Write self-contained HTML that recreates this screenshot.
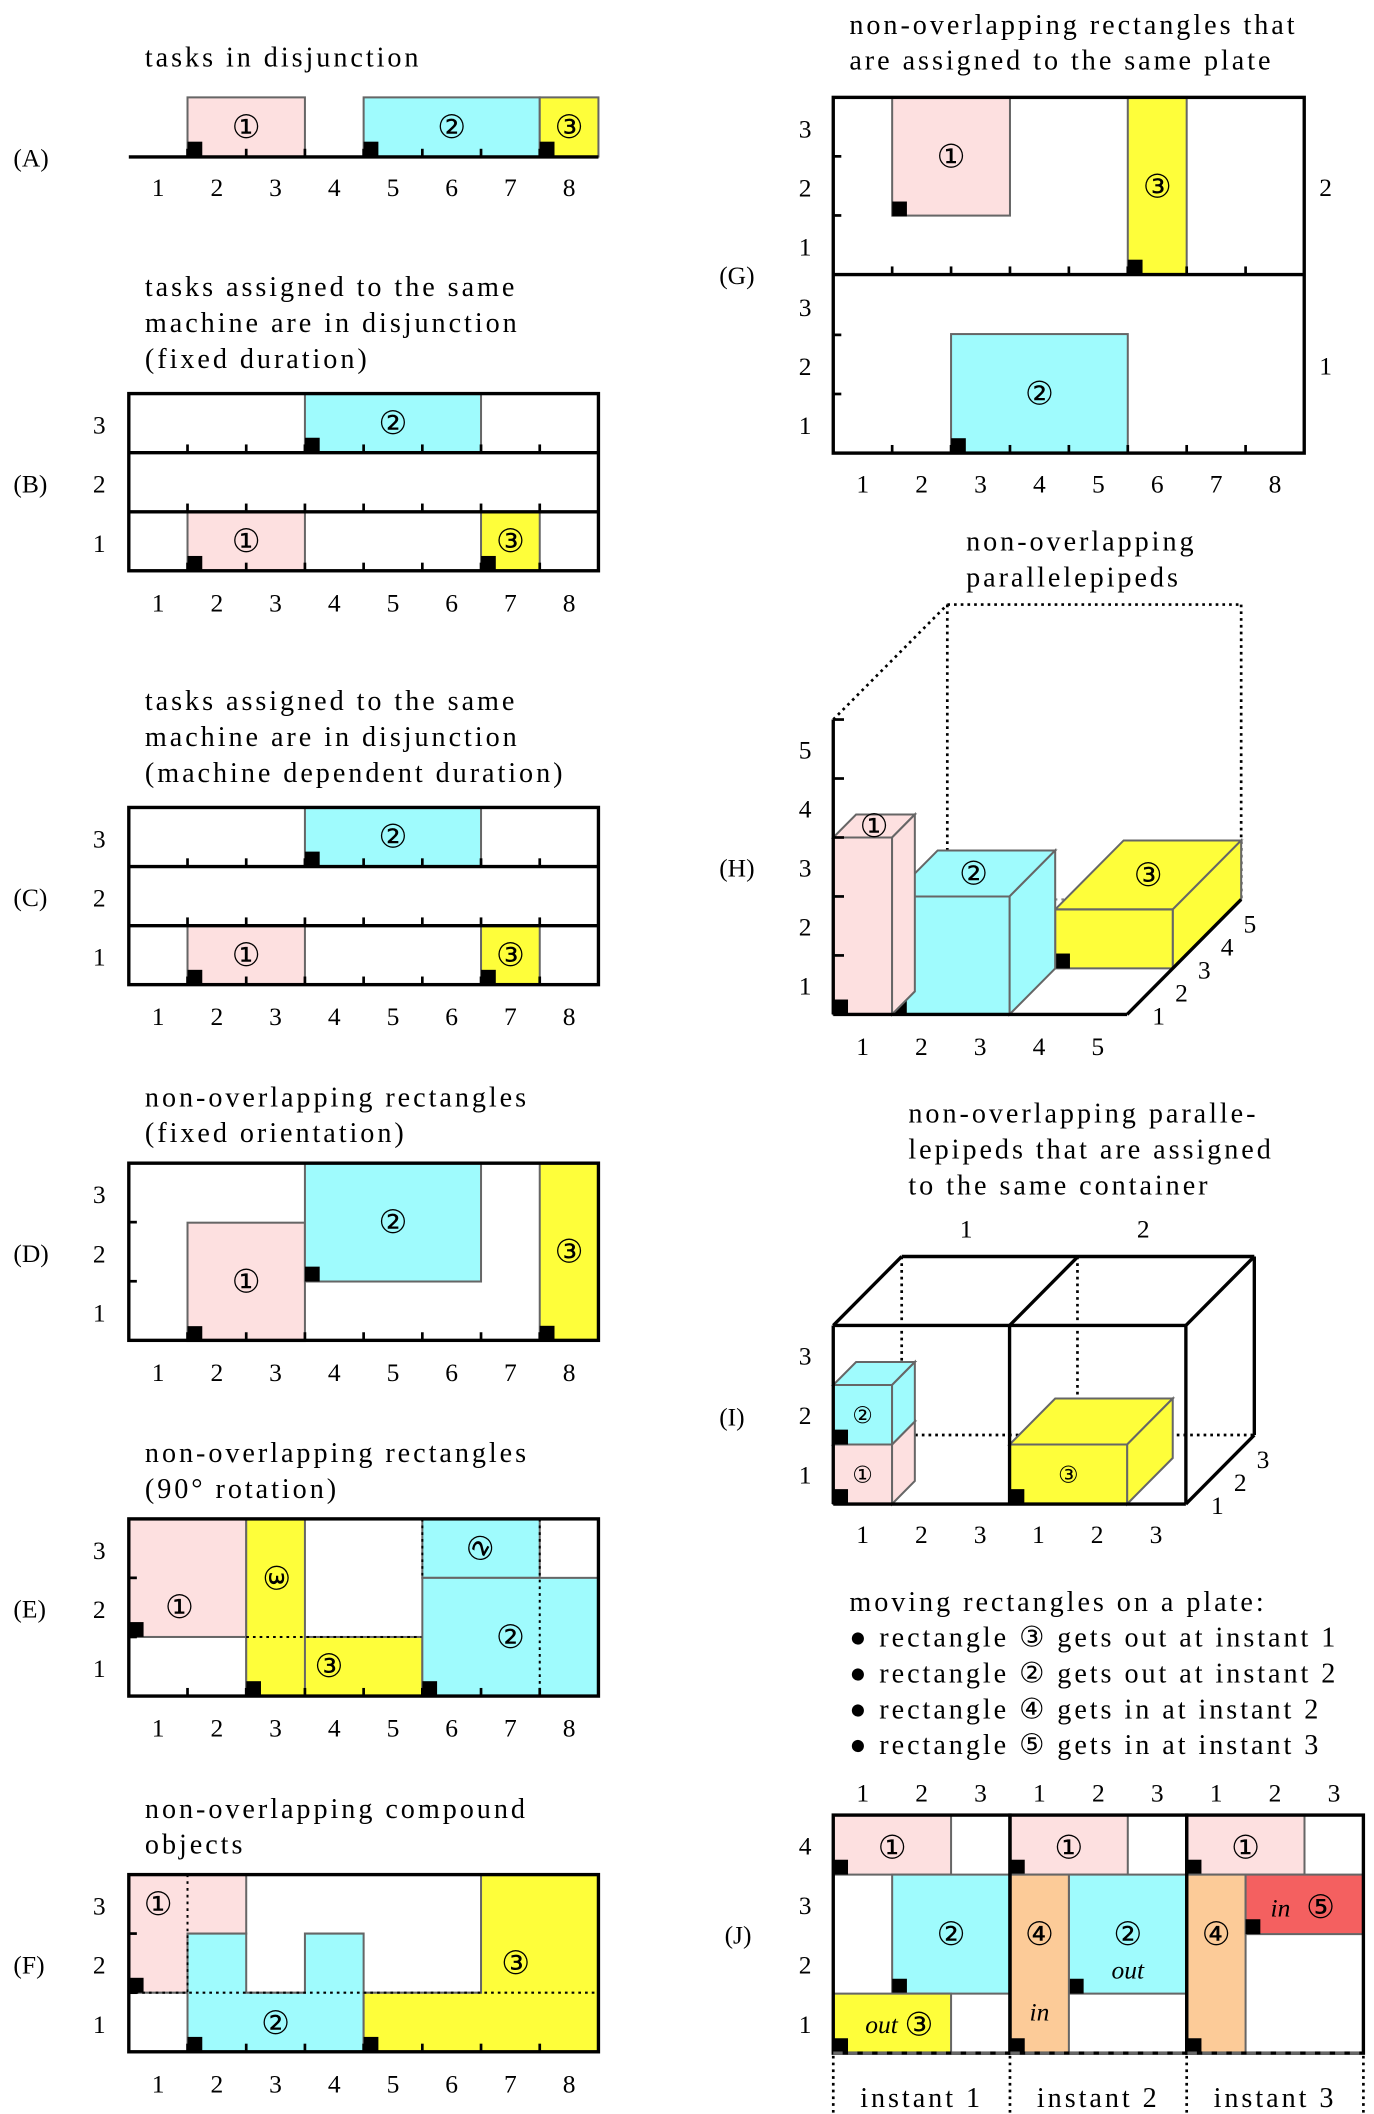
<!DOCTYPE html>
<html><head><meta charset="utf-8"><style>
html,body{margin:0;padding:0;background:#fff}
svg{display:block}
text{font-family:"Liberation Serif","DejaVu Serif",serif;font-size:19px;fill:#000}
.c{font-family:"DejaVu Sans","Liberation Sans",sans-serif;font-size:24px}
.t{font-size:21px;letter-spacing:2.2px}
</style></head><body>
<svg id="s" width="1374" height="2114" viewBox="0 0 1024 1563" preserveAspectRatio="none" xmlns="http://www.w3.org/2000/svg"></svg>
<script>
const PINK='#fde0e0',CYAN='#9ffbfd',YEL='#fefe3a',ORG='#fccb98',RED='#f46060',EDGE='#666';
const cellLabels=['1','2','3','4','5','6','7','8'];
// rect data: [col start, cols, row start(0-based from bottom), rows, color, label]
const panelA=[[2,2,0,1,PINK,'①'],[5,3,0,1,CYAN,'②'],[8,1,0,1,YEL,'③']];
const panelB=[[2,2,0,1,PINK,'①'],[4,3,2,1,CYAN,'②'],[7,1,0,1,YEL,'③']];
const panelD=[[2,2,0,2,PINK,'①'],[4,3,1,2,CYAN,'②'],[8,1,0,3,YEL,'③']];
const S=document.getElementById('s');
function el(tag,attrs,name,parent){const e=document.createElementNS('http://www.w3.org/2000/svg',tag);for(const k in attrs)e.setAttribute(k,attrs[k]);


(parent||S).appendChild(e);return e;}
function txt(x,y,s,name,cls,anchor){const t=el('text',{x:x,y:y,'text-anchor':anchor||'start'},name);if(cls)t.setAttribute('class',cls);t.textContent=s;return t;}
function line(x1,y1,x2,y2,w,dash,col){return el('line',{x1:x1,y1:y1,x2:x2,y2:y2,stroke:col||'#000','stroke-width':w||2,'stroke-dasharray':dash||'none'},'line');}
function box(x,y,w,h,fill,name){return el('rect',{x:x,y:y,width:w,height:h,fill:fill,stroke:EDGE,'stroke-width':1.5},name);}
function sq(x,y){el('rect',{x:x,y:y-11,width:11,height:11,fill:'#000'},'origin-marker');}
function poly(pts,fill,name){return el('polygon',{points:pts.map(p=>p.join(',')).join(' '),fill:fill,stroke:EDGE,'stroke-width':1.5},name);}
const U=43.75;
const X=c=>96+(c-1)*U;
function titles(x,y,lines,name){lines.forEach((l,i)=>txt(x,y+i*26.5,l,name,'t'));}
function xLabels(y,x0,u){cellLabels.forEach((l,i)=>txt(x0+(i+0.5)*u,y,l,'x-tick-label','','middle'));}
function drawRects(list,Y){list.forEach(r=>{const x=X(r[0]),w=r[1]*U,y=Y(r[2]+r[3]),h=r[3]*U;box(x,y,w,h,r[4],'task-rect');sq(x,y+h);txt(x+w/2,y+h/2+8,r[5],'task-label','c','middle');});}

// Panel A
titles(108,49,['tasks in disjunction'],'title-a');txt(10,123,'(A)','panel-a-label');
drawRects(panelA,r=>116-r*44);
line(96,116,446,116,2.5);for(let i=2;i<=8;i++)line(X(i),116,X(i),110,2);
xLabels(145,96,U);

// Panels B & C
function machinePanel(top,label,ttl){
  titles(108,top-72,ttl,'title');txt(10,top+73,label,'panel-label');
  const Y=r=>top+131-r*43.7;
  drawRects(panelB,Y);
  el('rect',{x:96,y:top,width:350,height:131,fill:'none',stroke:'#000','stroke-width':2.5},'frame');
  line(96,top+43.7,446,top+43.7,2.5);line(96,top+87.4,446,top+87.4,2.5);
  for(let r=0;r<3;r++){const yb=Y(r);for(let i=2;i<=8;i++)line(X(i),yb,X(i),yb-6,2);txt(74,yb-14,String(r+1),'y-tick-label','','middle');}
  xLabels(top+161,96,U);
}
machinePanel(291,'(B)',['tasks assigned to the same','machine are in disjunction','(fixed duration)']);
machinePanel(597,'(C)',['tasks assigned to the same','machine are in disjunction','(machine dependent duration)']);

function gridFrame(top,label){
  el('rect',{x:96,y:top,width:350,height:131,fill:'none',stroke:'#000','stroke-width':2.5},'frame');
  for(let i=2;i<=8;i++)line(X(i),top+131,X(i),top+125,2);
  for(let r=1;r<3;r++)line(96,top+131-r*43.7,102,top+131-r*43.7,2);
  for(let r=0;r<3;r++)txt(74,top+131-r*43.7-14,String(r+1),'y-tick-label','','middle');
  xLabels(top+161,96,U);txt(10,top+73,label,'panel-label');
}
// Panel D
titles(108,818,['non-overlapping rectangles','(fixed orientation)'],'title-d');
drawRects(panelD,r=>992-r*44);gridFrame(860,'(D)');

// Panel E
titles(108,1081,['non-overlapping rectangles','(90° rotation)'],'title-e');
{const T=1123,h=43.7,Y=r=>T+131-r*h;
box(X(1),Y(3),2*U,2*h,PINK,'rect-1');sq(X(1),Y(1));txt(X(2)-6,Y(2)+h/2+8,'①','label','c','middle');
box(X(3),Y(1),3*U,h,YEL,'rect-3-horizontal');box(X(3),Y(3),U,3*h,YEL,'rect-3-vertical');sq(X(3),Y(0));
el('text',{x:X(3)+U/2,y:Y(2)+8,'text-anchor':'middle','class':'c',transform:`rotate(90 ${X(3)+U/2} ${Y(2)})`},'rotated-label').textContent='③';
txt(X(4)+U/2-4,Y(0)-14,'③','label','c','middle');
line(X(3),Y(1),X(6),Y(1),1.5,'2,3');
box(X(6),Y(3),2*U,h,CYAN,'rect-2-rotated');box(X(6),Y(2),3*U,2*h,CYAN,'rect-2');sq(X(6),Y(0));
el('text',{x:X(7),y:Y(3)+h/2+8,'text-anchor':'middle','class':'c',transform:`rotate(-60 ${X(7)} ${Y(3)+h/2})`},'rotated-label').textContent='②';
txt(X(7)+U/2,Y(1)+8,'②','label','c','middle');
line(X(8),Y(3),X(8),Y(0),1.5,'2,3');line(X(6),Y(3),X(6),Y(2),1.5,'2,3');
gridFrame(T,'(E)');}

// Panel F
titles(108,1344,['non-overlapping compound','objects'],'title-f');
{const T=1386,h=43.7,Y=r=>T+131-r*h;
poly([[X(1),Y(3)],[X(3),Y(3)],[X(3),Y(2)],[X(2),Y(2)],[X(2),Y(1)],[X(1),Y(1)]],PINK,'compound-1');sq(X(1),Y(1));txt(X(1)+U/2,Y(3)+h/2+8,'①','label','c','middle');
poly([[X(2),Y(0)],[X(5),Y(0)],[X(5),Y(2)],[X(4),Y(2)],[X(4),Y(1)],[X(3),Y(1)],[X(3),Y(2)],[X(2),Y(2)]],CYAN,'compound-2');sq(X(2),Y(0));txt(X(3)+U/2,Y(0)-13,'②','label','c','middle');
poly([[X(5),Y(0)],[X(9),Y(0)],[X(9),Y(3)],[X(7),Y(3)],[X(7),Y(1)],[X(5),Y(1)]],YEL,'compound-3');sq(X(5),Y(0));txt(X(8)-U/2+4,Y(2)+h/2+8,'③','label','c','middle');
line(X(2),Y(3),X(2),Y(1),1.5,'2,3');line(X(1),Y(1),X(9),Y(1),1.5,'2,3');
gridFrame(T,'(F)');}

// Panel G
titles(633,25,['non-overlapping rectangles that','are assigned to the same plate'],'title-g');txt(536,210,'(G)','panel-g-label');
{const G=c=>621+(c-1)*43.9,h=43.7;
const plates=[[203,2],[335,1]];
box(G(2),72,2*43.9,2*h,PINK,'rect-1');sq(G(2),160);txt(G(3),124,'①','label','c','middle');
box(G(6),72,43.9,131,YEL,'rect-3');sq(G(6),203);txt(G(6)+22,146,'③','label','c','middle');
box(G(3),247,3*43.9,88,CYAN,'rect-2');sq(G(3),335);txt(G(4)+22,299,'②','label','c','middle');
el('rect',{x:621,y:72,width:351,height:263,fill:'none',stroke:'#000','stroke-width':2.5},'frame');line(621,203,972,203,2.5);
plates.forEach(p=>{for(let i=2;i<=8;i++)line(G(i),p[0],G(i),p[0]-6,2);for(let r=1;r<3;r++)line(621,p[0]-r*h,627,p[0]-r*h,2);
for(let r=0;r<3;r++)txt(600,p[0]-r*h-14,String(r+1),'y-tick-label','','middle');txt(988,p[0]-58,String(p[1]),'plate-label','','middle');});
xLabels(364,621,43.9);}

// Panel H
titles(720,407,['non-overlapping','parallelepipeds'],'title-h');txt(536,648,'(H)','panel-h-label');
{const P=(x,y,d)=>[621+x*43.8+d*17,750-y*43.6-d*17];
line(621,532,706,447,2,'2,3');line(706,447,925,447,2,'2,3');line(925,447,925,665,2,'2,3');line(706,447,706,665,2,'2,3');
line(621,750,706,665,1.5,'2,3','#888');line(706,665,925,665,1.5,'2,3','#888');
function cuboid(x0,x1,y0,y1,d0,d1,fill,lab,name){
 poly([P(x0,y1,d0),P(x1,y1,d0),P(x1,y1,d1),P(x0,y1,d1)],fill,name+'-top');
 poly([P(x1,y0,d0),P(x1,y0,d1),P(x1,y1,d1),P(x1,y1,d0)],fill,name+'-side');
 poly([P(x0,y0,d0),P(x1,y0,d0),P(x1,y1,d0),P(x0,y1,d0)],fill,name+'-front');
 const o=P(x0,y0,d0);sq(o[0],o[1]);const c=P((x0+x1)/2,y1,(d0+d1)/2);txt(c[0],c[1]+8,lab,'label','c','middle');}
cuboid(3,5,0,1,2,5,YEL,'③','box-3');cuboid(1,3,0,2,0,2,CYAN,'②','box-2');cuboid(0,1,0,3,0,1,PINK,'①','box-1');
line(621,532,621,750,2.5);line(621,750,840,750,2.5);line(840,750,925,665,2.5);
for(let i=1;i<=5;i++){line(621,750-i*43.6,629,750-i*43.6,2);txt(600,750-(i-0.5)*43.6+7,String(i),'y-tick-label','','middle');txt(621+(i-0.5)*43.8,780,String(i),'x-tick-label','','middle');
 const q=P(5,0,i-0.5);txt(q[0]+15,q[1]+16,String(i),'z-tick-label','','middle');}}

// Panel I
titles(677,830,['non-overlapping paralle-','lepipeds that are assigned','to the same container'],'title-i');txt(536,1054,'(I)','panel-i-label');
txt(720,915,'1','container-label','','middle');txt(852,915,'2','container-label','','middle');
{const P=(x,y,d)=>[621+x*43.8+d*17,1112-y*44-d*17];
line(672,929,672,1061,2,'2,3');line(803,929,803,1061,2,'2,3');line(672,1061,935,1061,2,'2,3');
function cuboid(x0,x1,y0,y1,d0,d1,fill,lab){
 poly([P(x0,y1,d0),P(x1,y1,d0),P(x1,y1,d1),P(x0,y1,d1)],fill,'box-top');
 poly([P(x1,y0,d0),P(x1,y0,d1),P(x1,y1,d1),P(x1,y1,d0)],fill,'box-side');
 poly([P(x0,y0,d0),P(x1,y0,d0),P(x1,y1,d0),P(x0,y1,d0)],fill,'box-front');
 const o=P(x0,y0,d0);sq(o[0],o[1]);const c=P((x0+x1)/2,(y0+y1)/2,d0);txt(c[0],c[1]+6,lab,'label','c','middle').setAttribute('style','font-size:17px');}
cuboid(0,1,0,1,0,1,PINK,'①');cuboid(0,1,1,2,0,1,CYAN,'②');cuboid(3,5,0,1,0,2,YEL,'③');
const f=[[P(0,0,0),P(6,0,0)],[P(0,3,0),P(6,3,0)],[P(0,0,0),P(0,3,0)],[P(3,0,0),P(3,3,0)],[P(6,0,0),P(6,3,0)],
[P(0,3,3),P(6,3,3)],[P(0,3,0),P(0,3,3)],[P(3,3,0),P(3,3,3)],[P(6,3,0),P(6,3,3)],[P(6,0,0),P(6,0,3)],[P(6,0,3),P(6,3,3)]];
f.forEach(s=>line(s[0][0],s[0][1],s[1][0],s[1][1],2.5));
for(let i=1;i<=3;i++){txt(600,1112-(i-0.5)*44+7,String(i),'y-tick-label','','middle');txt(621+(i-0.5)*43.8,1141,String(i),'x-tick-label','','middle');txt(752+(i-0.5)*43.8,1141,String(i),'x-tick-label','','middle');
 const q=P(6,0,i-0.5);txt(q[0]+15,q[1]+16,String(i),'z-tick-label','','middle');}}

// Panel J
titles(633,1191,['moving rectangles on a plate:','● rectangle ③ gets out at instant 1','● rectangle ② gets out at instant 2','● rectangle ④ gets in at instant 2','● rectangle ⑤ gets in at instant 3'],'title-j');
txt(540,1437,'(J)','panel-j-label');
{const W=43.9,h=44,J=(p,c)=>621+p*131.7+(c-1)*W,Y=r=>1518-r*h;
function r(p,c,w,r0,rh,fill,name){const x=J(p,c);box(x,Y(r0+rh),w*W,rh*h,fill,name);sq(x,Y(r0));}
for(let p=0;p<3;p++){r(p,1,2,3,1,PINK,'rect-1');txt(J(p,2),1374,'①','label','c','middle');}
r(0,2,2,1,2,CYAN,'rect-2');txt(J(0,3),1438,'②','label','c','middle');
r(0,1,2,0,1,YEL,'rect-3');txt(J(0,1)+36,1503,'out','label','','middle').setAttribute('font-style','italic');txt(J(0,2)+20,1505,'③','label','c','middle');
r(1,2,2,1,2,CYAN,'rect-2');txt(J(1,3),1438,'②','label','c','middle');const o=txt(J(1,3),1463,'out','label','','middle');o.setAttribute('font-style','italic');
for(let p=1;p<3;p++){r(p,1,1,0,3,ORG,'rect-4');txt(J(p,1)+W/2,1438,'④','label','c','middle');}
txt(J(1,1)+W/2,1494,'in','label','','middle').setAttribute('font-style','italic');
r(2,2,2,2,1,RED,'rect-5');txt(J(2,2)+26,1417,'in','label','','middle').setAttribute('font-style','italic');txt(J(2,3)+12,1418,'⑤','label','c','middle');
for(let p=0;p<3;p++){el('rect',{x:J(p,1),y:1342,width:3*W,height:176,fill:'none',stroke:'#000','stroke-width':2.5},'plate-frame');
 for(let i=0;i<3;i++)txt(J(p,1)+(i+0.5)*W,1332,String(i+1),'x-tick-label','','middle');
 txt(J(p,1)+3*W/2,1558,'instant '+(p+1),'instant-label','t','middle');}
line(621,1518,1016,1518,2.5,'7,4','#666');
for(let p=0;p<=3;p++)line(621+p*131.7,1520,621+p*131.7,1563,2,'2,3');
for(let i=1;i<=4;i++)txt(600,Y(i-1)-15,String(i),'y-tick-label','','middle');}
</script>
</body></html>
